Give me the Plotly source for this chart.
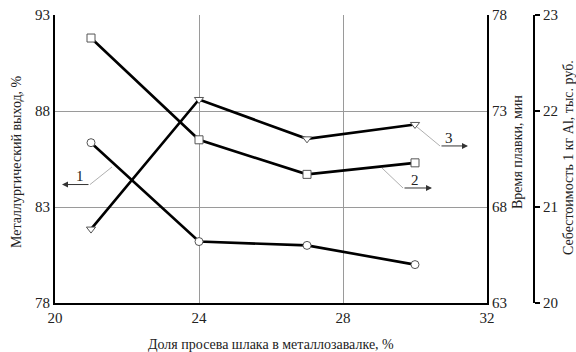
import plotly.graph_objects as go

# Data
x_share = [21, 24, 27, 30]
yield_pct = [86.35, 81.2, 81.0, 80.0]          # series 1, left axis
melt_time = [76.8, 71.5, 69.7, 70.3]            # series 2, middle axis
cost_k_rub = [20.77, 22.12, 21.71, 21.86]       # series 3, right axis

x_ticks = [20, 24, 28, 32]
y1_ticks = [78, 83, 88, 93]
y2_ticks = [63, 68, 73, 78]
y3_ticks = [20, 21, 22, 23]

FONT = "Liberation Serif"
W, H = 576, 352
PL, PR, PT, PB = 55, 560, 15, 303   # plot area in window pixels
L, T = PL, PT
R, B = W - PR, H - PB
plot_w = PR - PL
plot_h = PB - PT
x_dom_end = (487 - PL) / plot_w
y3_pos = (534 - PL) / plot_w

fig = go.Figure()

line_style = dict(color="black", width=2.6)
mk = dict(size=8, color="white", line=dict(color="#555555", width=1))

fig.add_trace(go.Scatter(x=x_share, y=yield_pct, mode="lines+markers",
                         line=line_style, marker=dict(symbol="circle", **mk),
                         yaxis="y", showlegend=False))
fig.add_trace(go.Scatter(x=x_share, y=melt_time, mode="lines+markers",
                         line=line_style, marker=dict(symbol="square", **mk),
                         yaxis="y2", showlegend=False))
fig.add_trace(go.Scatter(x=x_share, y=cost_k_rub, mode="lines+markers",
                         line=line_style, marker=dict(symbol="triangle-down", **mk),
                         yaxis="y3", showlegend=False))

tickfont = dict(family=FONT, size=15, color="#222222")
grid_c = "#9a9a9a"

fig.update_layout(
    width=W, height=H,
    margin=dict(l=L, r=R, t=T, b=B, autoexpand=False),
    paper_bgcolor="white", plot_bgcolor="white",
    font=dict(family=FONT, color="#222222"),
    xaxis=dict(domain=[0, x_dom_end], range=[20, 32], tickvals=x_ticks,
               showgrid=True, gridcolor=grid_c, gridwidth=1,
               showline=True, linecolor="black", linewidth=2,
               ticks="", tickfont=tickfont, zeroline=False, automargin=False),
    yaxis=dict(range=[78, 93], tickvals=y1_ticks, showgrid=True,
               gridcolor=grid_c, gridwidth=1, showline=True,
               linecolor="black", linewidth=2, ticks="",
               tickfont=tickfont, zeroline=False, automargin=False),
    yaxis2=dict(range=[63, 78], tickvals=y2_ticks, overlaying="y",
                side="right", anchor="x", showgrid=False,
                showline=True, linecolor="black", linewidth=2, ticks="",
                tickfont=tickfont, zeroline=False, automargin=False),
    yaxis3=dict(range=[20, 23], tickvals=y3_ticks, overlaying="y",
                side="right", anchor="free", position=y3_pos,
                showgrid=False, showline=True, linecolor="black",
                linewidth=2, ticks="outside", ticklen=5, tickwidth=1.5,
                tickcolor="black", tickfont=tickfont, zeroline=False,
                automargin=False),
)

title_font = dict(family=FONT, size=14, color="#222222")
ann = [
    dict(text="Металлургический выход, %", x=16, y=162, textangle=-90),
    dict(text="Время плавки, мин", x=517, y=152, textangle=-90),
    dict(text="Себестоимость 1 кг Al, тыс. руб.", x=568, y=158, textangle=-90),
    dict(text="Доля просева шлака в металлозавалке, %", x=271, y=344, textangle=0),
]
for a in ann:
    fig.add_annotation(text=a["text"], xref="paper", yref="paper",
                       x=(a["x"] - PL) / plot_w, y=1 - (a["y"] - PT) / plot_h,
                       xanchor="center", yanchor="middle", textangle=a["textangle"],
                       showarrow=False, font=title_font)

# Callout leaders (in x / left-y data coordinates)
leaders = [
    # (gray start, elbow, arrow head, label, label pos)
    ((21.583, 85.083), (20.972, 84.17), (20.194, 84.17), "1", (20.694, 84.60)),
    ((29.083, 85.03), (29.667, 83.99), (30.472, 83.99), "2", (30.0, 84.42)),
    ((30.056, 87.167), (30.694, 86.18), (31.472, 86.18), "3", (30.944, 86.58)),
]
for g0, elbow, head, lab, lpos in leaders:
    fig.add_shape(type="line", xref="x", yref="y", x0=g0[0], y0=g0[1],
                  x1=elbow[0], y1=elbow[1], line=dict(color="#b0b0b0", width=1))
    fig.add_annotation(x=head[0], y=head[1], ax=elbow[0], ay=elbow[1],
                       xref="x", yref="y", axref="x", ayref="y", text="",
                       showarrow=True, arrowhead=2, arrowsize=1.2, arrowwidth=1,
                       arrowcolor="#333333")
    fig.add_annotation(x=lpos[0], y=lpos[1], xref="x", yref="y", text=lab,
                       showarrow=False, font=dict(family=FONT, size=15, color="#222222"))

fig.write_html("out.html", config={"displayModeBar": False},
               post_script="document.body.style.margin='0px';")
